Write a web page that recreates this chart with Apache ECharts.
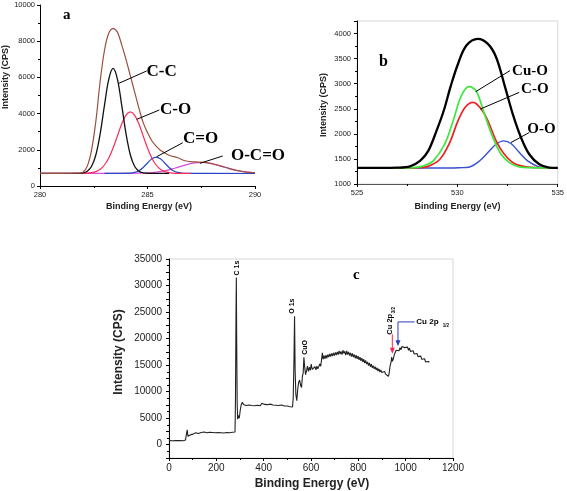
<!DOCTYPE html>
<html><head><meta charset="utf-8">
<script src="https://cdn.jsdelivr.net/npm/echarts@6/dist/echarts.min.js"></script>
<style>html,body{margin:0;padding:0;background:#fff}#chart{width:567px;height:491px}</style>
</head><body><div id="chart"></div>
<script>
// ---------- Panel a : C 1s ----------
const aBrownX = [280, 281, 281.8, 282.0, 282.2, 282.4, 282.6, 282.8, 283.0, 283.2, 283.4, 283.6, 283.8, 284.0, 284.2, 284.4, 284.6, 284.8, 285.0, 285.2, 285.4, 285.6, 285.8, 286.0, 286.4, 286.8, 287.2, 287.6, 288.0, 288.4, 288.8, 289.2, 289.6, 290];
const aBrownY = [700, 700, 705, 760, 1100, 2000, 3600, 5800, 7500, 8450, 8700, 8500, 7800, 7000, 6100, 5200, 4300, 3500, 2950, 2500, 2200, 1980, 1830, 1700, 1560, 1380, 1330, 1310, 1240, 1110, 970, 850, 770, 730];
const aBlackX = [280, 281.6, 282.0, 282.2, 282.4, 282.6, 282.8, 283.0, 283.2, 283.4, 283.6, 283.8, 284.0, 284.2, 284.4, 284.6, 284.8, 285.0, 286];
const aBlackY = [700, 700, 729, 818, 1090, 1727, 2892, 4464, 5908, 6500, 5908, 4464, 2892, 1727, 1090, 818, 729, 705, 700];
const aRedX = [281.5, 282.2, 282.4, 282.6, 282.8, 283.0, 283.2, 283.4, 283.6, 283.8, 284.0, 284.2, 284.4, 284.6, 284.8, 285.0, 285.2, 285.4, 285.6, 285.8, 286.0, 286.2, 286.4, 287];
const aRedY = [700, 713, 738, 797, 923, 1160, 1548, 2098, 2763, 3423, 3916, 4100, 3916, 3423, 2763, 2098, 1548, 1160, 923, 797, 738, 713, 702, 700];
const aBlueX = [283.0, 284.2, 284.4, 284.6, 284.8, 285.0, 285.2, 285.4, 285.6, 285.8, 286.0, 286.2, 286.4, 286.6, 286.8, 290];
const aBlueY = [700, 715, 753, 847, 1025, 1272, 1504, 1600, 1504, 1272, 1025, 847, 753, 715, 700, 690];
const aMagX = [280, 284.0, 284.4, 284.8, 285.2, 285.6, 286.0, 286.4, 286.8, 287.2, 287.6, 288.0, 288.4, 288.8, 289.2, 289.6, 290.0];
const aMagY = [700, 700, 705, 716, 743, 799, 895, 1028, 1170, 1274, 1297, 1229, 1100, 958, 841, 766, 726];

// ---------- Panel b : O 1s ----------
const bBlackX = [525, 526, 526.98, 527.64, 528.14, 528.55, 528.96, 529.32, 529.65, 530.03, 530.45, 531.02, 531.52, 531.93, 532.38, 532.76, 533.17, 533.58, 534.08, 534.57, 535];
const bBlackY = [1320, 1322, 1327, 1353, 1460, 1660, 2060, 2460, 2927, 3393, 3760, 3893, 3793, 3527, 2927, 2393, 1927, 1593, 1393, 1327, 1320];
const bGreenX = [525, 527.5, 527.97, 528.4, 528.8, 529.37, 529.79, 530.2, 530.58, 530.94, 531.35, 531.77, 532.18, 532.59, 533.09, 533.58, 535];
const bGreenY = [1320, 1321, 1330, 1375, 1460, 1793, 2260, 2760, 2940, 2853, 2393, 1927, 1593, 1427, 1340, 1327, 1320];
const bRedX = [525, 527.8, 528.3, 528.7, 529.13, 529.62, 530.03, 530.41, 530.78, 531.19, 531.52, 531.93, 532.34, 532.84, 533.42, 534.24, 535];
const bRedY = [1320, 1321, 1330, 1380, 1493, 1827, 2260, 2540, 2627, 2493, 2260, 1860, 1593, 1407, 1340, 1323, 1320];
const bBlueX = [527, 529.5, 530.1, 530.61, 531.1, 531.52, 531.93, 532.31, 532.67, 533.09, 533.5, 534.0, 534.57, 535];
const bBlueY = [1320, 1320, 1325, 1340, 1460, 1627, 1793, 1860, 1807, 1627, 1460, 1353, 1323, 1320];

// ---------- Panel c : survey ----------
const cEnergy = [0,8,15,22,30,38,45,52,60,66,70,74,77,80,84,88,92,97,102,108,113,118,124,130,136,142,148,154,160,166,172,178,184,190,196,202,208,214,220,226,232,238,244,250,256,262,268,274,279,281,283,284.5,286,288,290,293,297,301,305,310,315,320,326,332,338,344,350,356,362,368,374,380,386,392,398,404,410,416,422,428,434,440,446,452,458,464,470,476,482,488,494,500,506,512,518,522,525,528,530.5,533,536,540,544,548,552,556,560,564,567,570,573,577,581,585,589,593,597,601,605,609,613,617,621,625,629,633,637,641,645,648,651,655,659,663,667,671,675,679,683,687,691,695,699,703,707,711,715,719,723,727,731,735,739,743,747,751,755,759,763,767,771,775,779,783,787,791,795,799,803,807,811,815,819,823,827,831,835,839,843,847,851,855,859,863,867,871,875,879,883,887,891,895,899,903,907,911,915,919,923,927,930,934,938,941,944,948,952,956,960,964,968,972,976,980,984,988,992,996,1000,1004,1008,1012,1016,1020,1024,1028,1032,1036,1040,1044,1048,1052,1056,1060,1064,1068,1072,1076,1080,1084,1088,1092,1096,1100];
const cIntensity = [780,850,760,880,800,900,780,830,760,850,900,2100,2800,1600,1800,1650,1900,1750,2000,1850,2250,1900,2100,1950,2300,2050,2400,2100,2250,2000,2350,2150,2300,2050,2250,2100,2300,2000,2250,2100,2200,2000,2300,2100,2250,2150,2350,2200,2400,9000,24000,31500,20000,8000,4800,5500,5000,6500,7500,8000,7600,7800,7400,7700,7500,7800,7400,7600,7350,7700,7450,7650,7350,7800,7500,7600,7300,7550,7350,7650,7300,7500,7250,7450,7200,7400,7250,7500,7150,7300,7100,7300,7050,7150,6950,7100,9000,16000,24200,14000,9500,8300,10500,11800,12200,11200,10800,13000,13500,16500,14800,13200,13900,14800,13800,14600,14000,15200,14200,14500,13900,14700,14100,14800,14300,14600,15200,14800,16200,17300,16100,16800,16200,16900,16300,17000,16500,17100,16600,17200,16700,17300,16800,17400,16900,17500,17000,17700,17100,17600,17000,17800,17200,17600,16900,17700,17000,17500,16800,17300,16600,17200,16500,17000,16300,16900,16200,16700,16000,16500,15800,16300,15600,16100,15400,15900,15200,15600,14900,15400,14700,15200,14500,14900,14300,14700,14100,14500,13900,14300,13700,14100,13600,13900,13400,13800,13300,13600,13100,12900,13400,14800,15500,16500,15700,16200,17000,16800,17800,17500,18100,17700,18300,17900,18500,18200,18700,18300,18600,18100,18400,17800,18200,17600,17900,17300,17700,17100,17400,16800,17200,16600,16900,16300,16700,16100,16400,15800,16200,15600,15900,15400,15700,15500];

// ---------- build ----------
const SANS = '"Liberation Sans", Arial, sans-serif';
const SERIF = '"Liberation Serif", "Times New Roman", serif';
const zip = (xs, ys) => xs.map((x, i) => [x, ys[i]]);
const plain = v => String(v);

function xAx(g, min, max, interval, fs, margin, lineColor) {
  return {
    gridIndex: g, type: 'value', min, max, interval,
    axisLine: { onZero: false, lineStyle: { color: lineColor || '#000', width: 1 } },
    axisTick: { show: true, length: 3, lineStyle: { color: '#000' } },
    minorTick: { show: true, splitNumber: 2, length: 2, lineStyle: { color: '#000' } },
    splitLine: { show: false }, minorSplitLine: { show: false },
    axisLabel: { fontSize: fs, color: '#222', margin, fontFamily: SANS, formatter: plain }
  };
}
function yAx(g, min, max, interval, fs, margin, labelExtra) {
  return {
    gridIndex: g, type: 'value', min, max, interval,
    axisLine: { show: true, onZero: false, lineStyle: { color: '#000', width: 1 } },
    axisTick: { show: true, length: 3, lineStyle: { color: '#000' } },
    minorTick: { show: true, splitNumber: 2, length: 2, lineStyle: { color: '#000' } },
    splitLine: { show: false }, minorSplitLine: { show: false },
    axisLabel: Object.assign({ fontSize: fs, color: '#222', margin, fontFamily: SANS, formatter: plain }, labelExtra || {})
  };
}
function line(g, data, color, width, smooth) {
  return { type: 'line', xAxisIndex: g, yAxisIndex: g, data, symbol: 'none', showSymbol: false,
    smooth: smooth, lineStyle: { color, width }, animation: false, silent: true };
}

const chart = echarts.init(document.getElementById('chart'));
chart.setOption({
  animation: false,
  backgroundColor: '#fff',
  grid: [
    { left: 40, top: 5, width: 215, height: 181, show: false },
    { left: 357, top: 21, width: 202, height: 163, show: true, borderColor: '#d3d7dc', borderWidth: 1, backgroundColor: 'transparent' },
    { left: 169, top: 259, width: 284, height: 199, show: true, borderColor: '#d3d7dc', borderWidth: 1, backgroundColor: 'transparent' }
  ],
  xAxis: [
    xAx(0, 280, 290, 5, 7.5, 5),
    xAx(1, 525, 535, 5, 7.5, 5, '#555'),
    xAx(2, 0, 1200, 200, 10, 5)
  ],
  yAxis: [
    yAx(0, 0, 10000, 2000, 7.5, 5),
    yAx(1, 1000, 4250, 500, 7.5, 6, { showMaxLabel: false }),
    yAx(2, -2500, 35000, 2500, 10, 7, { formatter: v => (v % 5000 === 0 ? String(v) : '') })
  ],
  series: [
    line(0, zip(aMagX, aMagY), '#d64ad6', 1.2, 0.35),
    line(0, zip(aBlueX, aBlueY), '#2b45c8', 1.2, 0.35),
    line(0, zip(aRedX, aRedY), '#ff2a5a', 1.2, 0.35),
    line(0, zip(aBlackX, aBlackY), '#111', 1.3, 0.35),
    line(0, zip(aBrownX, aBrownY), '#9b4f3f', 1.2, 0.35),
    line(1, zip(bBlueX, bBlueY), '#3352cc', 1.4, 0.35),
    line(1, zip(bRedX, bRedY), '#ee2222', 1.7, 0.35),
    line(1, zip(bGreenX, bGreenY), '#3de83d', 1.7, 0.35),
    line(1, zip(bBlackX, bBlackY), '#000', 2.3, 0.35),
    line(2, zip(cEnergy, cIntensity), '#222', 1.1, false)
  ]
});

// ---------- annotations (anchored in data coordinates) ----------
const annotA = [
  { t: 'a', at: [281.24, 9448], size: 15 },
  { t: 'C-C', at: [285.66, 6315], size: 17 },
  { t: 'C-O', at: [286.31, 4199], size: 17 },
  { t: 'C=O', at: [287.47, 2635], size: 17 },
  { t: 'O-C=O', at: [290.14, 1700], size: 17 }
];
const leadA = [[283.67, 5674, 284.96, 6354], [284.50, 3685, 285.55, 4199], [285.43, 1619, 286.64, 2392], [287.44, 1254, 288.50, 1658]];
const annotB = [
  { t: 'b', at: [526.32, 3426], size: 16 },
  { t: 'Cu-O', at: [533.62, 3260], size: 15 },
  { t: 'C-O', at: [533.86, 2890], size: 15 },
  { t: 'O-O', at: [534.19, 2094], size: 15 }
];
const leadB = [[530.91, 2840, 532.62, 3260], [531.14, 2494, 533.08, 2826], [532.67, 1826, 533.58, 2026]];

const P = (g, x, y) => chart.convertToPixel({ gridIndex: g }, [x, y]);
const els = [];
function text(x, y, t, font, opts) {
  opts = opts || {};
  els.push({ type: 'text', x, y, rotation: opts.rot || 0, silent: true, z: 100,
    style: { text: t, font, fill: opts.fill || '#000', align: opts.align || 'center', verticalAlign: 'middle',
      textAlign: opts.align || 'center', textVerticalAlign: 'middle' } });
}
function seg(p1, p2, color, w) {
  els.push({ type: 'line', silent: true, z: 100, shape: { x1: p1[0], y1: p1[1], x2: p2[0], y2: p2[1] },
    style: { stroke: color || '#000', lineWidth: w || 1 } });
}
function arrowDown(p, color) {
  els.push({ type: 'polygon', silent: true, z: 101,
    shape: { points: [[p[0] - 2.5, p[1] - 6], [p[0] + 2.5, p[1] - 6], [p[0], p[1]]] }, style: { fill: color } });
}

annotA.forEach(a => { const p = P(0, a.at[0], a.at[1]); text(p[0], p[1], a.t, 'bold ' + a.size + 'px ' + SERIF); });
leadA.forEach(l => seg(P(0, l[0], l[1]), P(0, l[2], l[3])));
annotB.forEach(a => { const p = P(1, a.at[0], a.at[1]); text(p[0], p[1], a.t, 'bold ' + a.size + 'px ' + SERIF); });
leadB.forEach(l => seg(P(1, l[0], l[1]), P(1, l[2], l[3])));

// panel c
let p;
p = P(2, 792, 31970); text(p[0], p[1], 'c', 'bold 15px ' + SERIF);
p = P(2, 286, 33300); text(p[0], p[1], 'C 1s', 'bold 7px ' + SANS, { rot: Math.PI / 2 });
p = P(2, 522, 26110); text(p[0], p[1], 'O 1s', 'bold 7px ' + SANS, { rot: Math.PI / 2 });
p = P(2, 575, 18350); text(p[0], p[1], 'CuO', 'bold 7px ' + SANS, { rot: Math.PI / 2 });
p = P(2, 932.7, 22700); text(p[0], p[1], 'Cu 2p', 'bold 7.5px ' + SANS, { rot: Math.PI / 2 });
p = P(2, 949.6, 25350); text(p[0], p[1], '3/2', 'bold 4.5px ' + SANS, { rot: Math.PI / 2 });
p = P(2, 1045, 23140); text(p[0], p[1], 'Cu 2p', 'bold 8px ' + SANS, { align: 'left' });
p = P(2, 1170, 22330); text(p[0], p[1], '1/2', 'bold 4.5px ' + SANS);
// red arrow (Cu 2p3/2)
const r1 = P(2, 943.8, 20810), r2 = P(2, 943.8, 17160);
seg(r1, [r2[0], r2[1] - 4], '#ff4466', 1.2); arrowDown(r2, '#ff2255');
// blue arrow (Cu 2p1/2)
const b1 = P(2, 1038, 23140), b2 = P(2, 967.5, 23140), b3 = P(2, 967.5, 18540);
seg(b1, b2, '#2a3cc0', 1); seg(b2, [b3[0], b3[1] - 4], '#2a3cc0', 1); arrowDown(b3, '#2a3cc0');

// axis titles
text(149, 207, 'Binding Energy (eV)', 'bold 9px ' + SANS, { fill: '#222' });
text(6, 77, 'Intensity (CPS)', 'bold 9px ' + SANS, { rot: Math.PI / 2, fill: '#222' });
text(457.5, 207, 'Binding Energy (eV)', 'bold 9px ' + SANS, { fill: '#222' });
text(323.5, 105, 'Intensity (CPS)', 'bold 9px ' + SANS, { rot: Math.PI / 2, fill: '#222' });
text(312, 484, 'Binding Energy (eV)', 'bold 12px ' + SANS, { fill: '#222' });
text(118.5, 352, 'Intensity (CPS)', 'bold 12px ' + SANS, { rot: Math.PI / 2, fill: '#222' });

chart.setOption({ graphic: { elements: els } });
</script>
</body></html>
